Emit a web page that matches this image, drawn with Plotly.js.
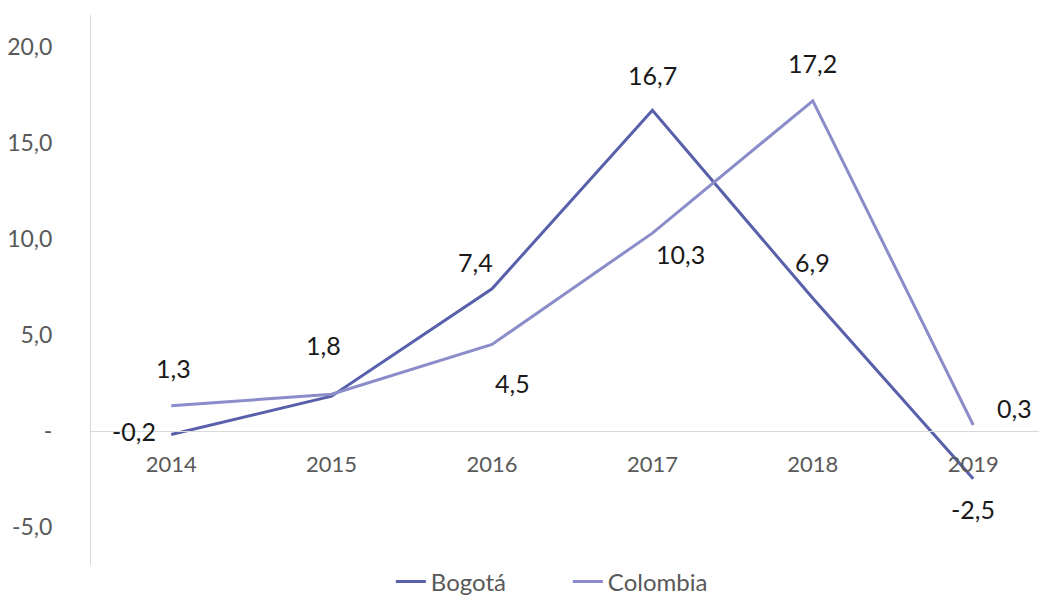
<!DOCTYPE html>
<html>
<head>
<meta charset="utf-8">
<script src="https://cdn.plot.ly/plotly-3.0.1.min.js"></script>
<style>html,body{margin:0;padding:0;background:#fff;}#chart{width:1039px;height:595px;}</style>
</head>
<body>
<div id="chart"></div>
<script>
const years = ['2014','2015','2016','2017','2018','2019'];
const bogota = [-0.2, 1.8, 7.4, 16.7, 6.9, -2.5];
const colombia = [1.3, 1.9, 4.5, 10.3, 17.2, 0.3];
const yTickVals = [-5, 0, 5, 10, 15, 20];
const yTickText = ['-5,0', '-', '5,0', '10,0', '15,0', '20,0'];
const seriesNames = ['Bogotá', 'Colombia'];

const colB = '#5860ab';
const colC = '#8a8dc9';
const FONT = 'Lato, "Noto Sans", sans-serif';

function fmt(v){ return v.toFixed(1).replace('.', ','); }

// label offsets (style only): [xshift, yshift] per point, null = no label
const offB = [[-37,4],[-8,51],[-17,27],[0,35],[0,36],[0,-30]];
const offC = [[2,38],null,[20,-39],[28,-21],[0,38],[41,17]];

const annotations = [];
function addLabels(vals, offs){
  vals.forEach((v,i)=>{
    const o = offs[i];
    if(!o) return;
    annotations.push({x: i, y: v, xref:'x', yref:'y', text: fmt(v), showarrow:false,
      xshift:o[0], yshift:o[1], font:{family:FONT, size:25, color:'#1a1a1a'}});
  });
}
addLabels(bogota, offB);
addLabels(colombia, offC);

const yMin = -7, yMax = 21.67;
const data = [
  {x: years, y: bogota, type:'scatter', mode:'lines', name: seriesNames[0], line:{color:colB, width:3}},
  {x: years, y: colombia, type:'scatter', mode:'lines', name: seriesNames[1], line:{color:colC, width:3}}
];
const layout = {
  width:1039, height:595,
  margin:{l:91, r:0, t:15, b:30, autoexpand:false},
  paper_bgcolor:'#fff', plot_bgcolor:'#fff',
  showlegend:true,
  legend:{orientation:'h', x:0.503, xanchor:'center', yref:'container', y:0.022, yanchor:'middle',
    entrywidth:132, entrywidthmode:'pixels',
    font:{family:FONT, size:24, color:'#595959'}},
  xaxis:{type:'category', range:[-0.5, 5.41], anchor:'free', position:(0-yMin)/(yMax-yMin),
    showline:true, linecolor:'#d9d9d9', linewidth:1, showgrid:false, zeroline:false, ticks:'',
    ticklabelstandoff:14, tickfont:{family:FONT, size:22, color:'#595959'}},
  yaxis:{range:[yMin, yMax], tickvals:yTickVals, ticktext:yTickText, showgrid:false, zeroline:false,
    showline:true, linecolor:'#d9d9d9', linewidth:1, ticks:'', ticklabelstandoff:33,
    tickfont:{family:FONT, size:23, color:'#595959'}},
  annotations: annotations
};
Plotly.newPlot('chart', data, layout, {displayModeBar:false, staticPlot:true});
</script>
</body>
</html>
